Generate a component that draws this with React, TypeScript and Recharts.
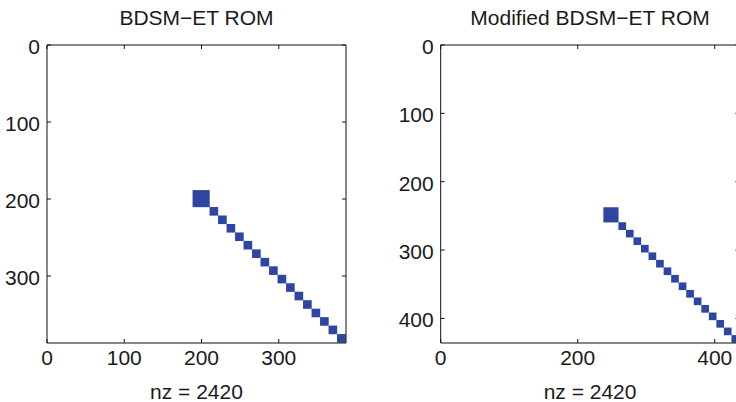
import React from 'react';
import { ComposedChart, XAxis, YAxis, ReferenceArea, Scatter } from 'recharts';

// Left matrix (BDSM-ET ROM): block index ranges (1-based rows/cols)
const leftTitle = 'BDSM\u2212ET ROM';
const leftSize = 386;
const leftBlockStart = [189, 211, 222, 233, 244, 255, 266, 277, 288, 299, 310, 321, 332, 343, 354, 365, 376];
const leftBlockEnd = [210, 221, 232, 243, 254, 265, 276, 287, 298, 309, 320, 331, 342, 353, 364, 375, 386];
const leftTicks = [0, 100, 200, 300];

// Right matrix (Modified BDSM-ET ROM)
const rightTitle = 'Modified BDSM\u2212ET ROM';
const rightSize = 435;
const rightBlockStart = [238, 260, 271, 282, 293, 304, 315, 326, 337, 348, 359, 370, 381, 392, 403, 414, 425];
const rightBlockEnd = [259, 270, 281, 292, 303, 314, 325, 336, 347, 358, 369, 380, 391, 402, 413, 424, 435];
const rightTicks = [0, 200, 400];
const rightYTicks = [0, 100, 200, 300, 400];

const nzLabel = 'nz = 2420';

const FONT = '"Liberation Sans", Arial, Helvetica, sans-serif';
const FS = 21;
const TXT = '#1a1a1a';
const AX = '#111';
const BLUE = '#2e45a3';
const TL = 4;

const BottomTick = (p: any) => (
  <g>
    <line x1={p.x} x2={p.x} y1={p.y} y2={p.y - TL} stroke={AX} strokeWidth={1} />
    <text x={p.x} y={p.y + 22} textAnchor="middle" fontFamily={FONT} fontSize={FS} fill={TXT}>
      {p.payload.value}
    </text>
  </g>
);
const TopTick = (p: any) => (
  <line x1={p.x} x2={p.x} y1={p.y} y2={p.y + TL} stroke={AX} strokeWidth={1} />
);
const LeftTick = (p: any) => (
  <g>
    <line x1={p.x} x2={p.x + TL} y1={p.y} y2={p.y} stroke={AX} strokeWidth={1} />
    <text x={p.x - 7} y={p.y + 9} textAnchor="end" fontFamily={FONT} fontSize={FS} fill={TXT}>
      {p.payload.value}
    </text>
  </g>
);
const RightTick = (p: any) => (
  <line x1={p.x} x2={p.x - TL} y1={p.y} y2={p.y} stroke={AX} strokeWidth={1} />
);

type SpyProps = {
  width: number;
  leftW: number;
  rightM: number;
  size: number;
  starts: number[];
  ends: number[];
  xTicks: number[];
  yTicks: number[];
  title: string;
};

const Spy = ({ width, leftW, rightM, size, starts, ends, xTicks, yTicks, title }: SpyProps) => {
  const dom: [number, number] = [0, size + 1];
  const pts = starts.map((s, i) => ({ c: (s + ends[i]) / 2 }));
  return (
    <ComposedChart width={width} height={402} data={pts} margin={{ top: 44, right: rightM, bottom: 0, left: 0 }}>
      <XAxis
        xAxisId="b"
        dataKey="c"
        type="number"
        orientation="bottom"
        domain={dom}
        ticks={xTicks}
        height={59}
        tickSize={0}
        tickMargin={0}
        tickLine={false}
        tick={BottomTick}
        axisLine={{ stroke: AX, strokeWidth: 1 }}
        allowDataOverflow
        interval={0}
        label={{ value: nzLabel, position: 'insideBottom', offset: 3, fontSize: FS, fontFamily: FONT, fill: TXT }}
      />
      <XAxis
        xAxisId="t"
        dataKey="c"
        type="number"
        orientation="top"
        domain={dom}
        ticks={xTicks}
        height={1}
        tickSize={0}
        tickMargin={0}
        tickLine={false}
        tick={TopTick}
        axisLine={{ stroke: AX, strokeWidth: 1 }}
        allowDataOverflow
        interval={0}
        label={{ value: title, position: 'top', offset: 19, fontSize: FS, fontFamily: FONT, fill: TXT }}
      />
      <YAxis
        yAxisId="l"
        dataKey="c"
        type="number"
        orientation="left"
        reversed
        domain={dom}
        ticks={yTicks}
        width={leftW}
        tickSize={0}
        tickMargin={0}
        tickLine={false}
        tick={LeftTick}
        axisLine={{ stroke: AX, strokeWidth: 1 }}
        allowDataOverflow
        interval={0}
      />
      <YAxis
        yAxisId="r"
        dataKey="c"
        type="number"
        orientation="right"
        reversed
        domain={dom}
        ticks={yTicks}
        width={1}
        tickSize={0}
        tickMargin={0}
        tickLine={false}
        tick={RightTick}
        axisLine={{ stroke: AX, strokeWidth: 1 }}
        allowDataOverflow
        interval={0}
      />
      <Scatter
        xAxisId="b"
        yAxisId="l"
        dataKey="c"
        isAnimationActive={false}
        shape={() => <g />}
      />
      {starts.map((s, i) => (
        <ReferenceArea
          key={i}
          xAxisId="b"
          yAxisId="l"
          x1={s - 0.6}
          x2={ends[i] + 0.6}
          y1={s - 0.6}
          y2={ends[i] + 0.6}
          fill={BLUE}
          fillOpacity={1}
          stroke="none"
          ifOverflow="visible"
        />
      ))}
    </ComposedChart>
  );
};

export default function App() {
  return (
    <div style={{ position: 'fixed', left: 0, top: 0, width: 736, height: 402, overflow: 'hidden', background: '#fff' }}>
      <div style={{ position: 'absolute', left: 0, top: 0 }}>
        <Spy
          width={369}
          leftW={47}
          rightM={22}
          size={leftSize}
          starts={leftBlockStart}
          ends={leftBlockEnd}
          xTicks={leftTicks}
          yTicks={leftTicks}
          title={leftTitle}
        />
      </div>
      <div style={{ position: 'absolute', left: 368, top: 0 }}>
        <Spy
          width={395}
          leftW={72.7}
          rightM={22.6}
          size={rightSize}
          starts={rightBlockStart}
          ends={rightBlockEnd}
          xTicks={rightTicks}
          yTicks={rightYTicks}
          title={rightTitle}
        />
      </div>
    </div>
  );
}
